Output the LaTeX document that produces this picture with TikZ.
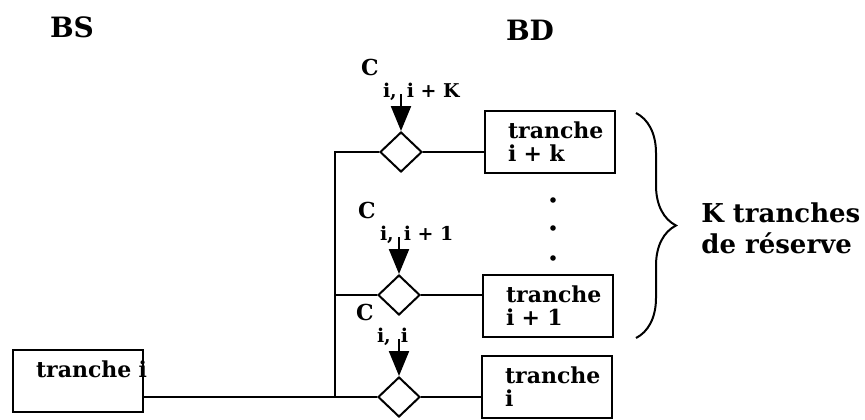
\documentclass[tikz,border=0pt]{standalone}
\usepackage{fontspec}
\setmainfont{DejaVu Serif}
\usetikzlibrary{arrows.meta, shapes.geometric, decorations.pathreplacing}

\begin{document}
\begin{tikzpicture}[
  x=1pt, y=-1pt,
  line width=2pt,
  box/.style={draw, rectangle, minimum width=130pt, minimum height=62pt, text width=84pt, inner xsep=23pt, align=left, font=\fontsize{22}{23}\selectfont\bfseries},
  gate/.style={draw, diamond, minimum width=42pt, minimum height=40pt, inner sep=0pt},
  sub/.style={font=\fontsize{19}{20}\selectfont\bfseries, inner sep=0pt, anchor=base west},
  cname/.style={font=\fontsize{22}{24}\selectfont\bfseries, inner sep=0pt},
  big/.style={font=\fontsize{26}{31}\selectfont\bfseries},
  arr/.style={-{Triangle[width=20pt,length=25pt]}, line width=2.2pt}
]
\useasboundingbox (0,0) rectangle (865,420);

% titles
\node[big, font=\fontsize{28}{31}\selectfont\bfseries] (bs) at (72,27) {BS};
\node[big, font=\fontsize{28}{31}\selectfont\bfseries] (bd) at (530,30) {BD};

% gates
\node[gate] (g1) at (401,152) {};
\node[gate] (g2) at (399,295) {};
\node[gate] (g3) at (399,397) {};

% tranches
\node[box] (t1) at (550,142) {tranche\\i + k};
\node[box] (t2) at (548,306) {tranche\\i + 1};
\node[box] (t3) at (547,387) {tranche\\i};
\node[box, text height=15pt, text depth=23pt] (t0) at (78,381) {\mbox{tranche i}};

% commands
\node[cname] (c1) at (370,67) {C};
\node[sub] (s1) at (382,97) {i,\hspace{10pt}i + K};
\node[cname] (c2) at (367,210) {C};
\node[sub] (s2) at (379,240) {i,\hspace{10pt}i + 1};
\node[cname] (c3) at (365,312) {C};
\node[sub] (s3) at (376,342) {i,\hspace{10pt}i};

\coordinate (a1) at (401,94);
\coordinate (a2) at (399,237);
\coordinate (a3) at (399,339);
\draw[arr] (a1) -- (g1.north);
\draw[arr] (a2) -- (g2.north);
\draw[arr] (a3) -- (g3.north);

% bus
\coordinate (bus) at (335,0);
\draw (g1.west) -- (g1.west -| bus) -- (bus |- g3.west);
\draw (g2.west) -- (g2.west -| bus);
\draw (t0.east |- g3.west) -- (g3.west);

\draw (g1.east) -- (g1.east -| t1.west);
\draw (g2.east) -- (g2.east -| t2.west);
\draw (g3.east) -- (g3.east -| t3.west);

\foreach \y in {200,228,258}
  \fill (553,\y) circle (2.8pt);

% reserve
\draw[decorate, decoration={brace, amplitude=40pt}] (636,113) -- (636,338);
\node[big, align=left, anchor=west] (kt) at (697,228) {K tranches\\de réserve};
\end{tikzpicture}
\end{document}
